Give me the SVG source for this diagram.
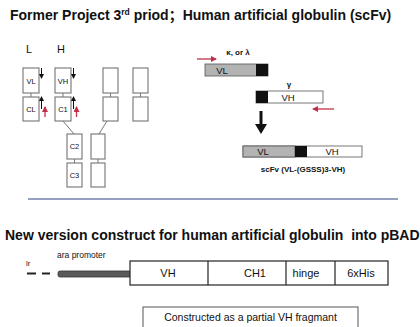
<svg xmlns="http://www.w3.org/2000/svg" width="420" height="327" viewBox="0 0 420 327">
<defs>
<style>
text{font-family:"Liberation Sans",Arial,sans-serif;fill:#111}
.t{font-size:14px;font-weight:bold}
.dom{fill:#fff;stroke:#666;stroke-width:1}
.ln{stroke:#777;stroke-width:1;fill:none}
.red{stroke:#c0304a;stroke-width:1.3;fill:none}
.blk{stroke:#111;stroke-width:1;fill:none}
.bar{stroke:#555;stroke-width:0.8}
.box{fill:#fff;stroke:#222;stroke-width:1.2}
.bl{font-size:11px;text-anchor:middle}
.dt{font-size:7.5px;text-anchor:middle}
</style>
<marker id="ar" markerWidth="6" markerHeight="6" refX="5" refY="3" orient="auto" markerUnits="userSpaceOnUse"><path d="M0,0L6,3L0,6z" fill="#c0304a"/></marker>
<marker id="ab" markerWidth="5" markerHeight="5" refX="4" refY="2.5" orient="auto" markerUnits="userSpaceOnUse"><path d="M0,0L5,2.5L0,5z" fill="#111"/></marker>
</defs>
<rect width="420" height="327" fill="#fff"/>
<text class="t" x="10" y="20">Former Project 3<tspan font-size="8.5" dy="-5">rd</tspan><tspan dy="5"> priod</tspan><tspan font-family="'Noto Sans CJK SC',sans-serif">；</tspan>Human artificial globulin (scFv)</text>

<g id="antibody">
<text x="26" y="53" font-size="11">L</text>
<text x="57" y="53" font-size="11">H</text>
<g id="VL"><rect class="dom" x="23" y="68" width="16" height="25"/><text class="dt" x="31" y="84">VL</text></g>
<g id="CL"><rect class="dom" x="23" y="97" width="16" height="24"/><text class="dt" x="31" y="112">CL</text></g>
<g id="VH"><rect class="dom" x="55" y="68" width="16" height="25"/><text class="dt" x="63" y="84">VH</text></g>
<g id="C1"><rect class="dom" x="55" y="97" width="16" height="24"/><text class="dt" x="63" y="112">C1</text></g>
<g id="VH2"><rect class="dom" x="103" y="68" width="15" height="25"/></g>
<g id="C1b"><rect class="dom" x="103" y="97" width="15" height="24"/></g>
<g id="VL2"><rect class="dom" x="133" y="68" width="15" height="25"/></g>
<g id="CL2"><rect class="dom" x="133" y="97" width="15" height="24"/></g>
<g id="C2"><rect class="dom" x="67" y="134" width="15" height="25"/><text class="dt" x="74.5" y="149">C2</text></g>
<g id="C3"><rect class="dom" x="67" y="163" width="15" height="24"/><text class="dt" x="74.5" y="178">C3</text></g>
<g id="C2b"><rect class="dom" x="91" y="134" width="14" height="25"/></g>
<g id="C3b"><rect class="dom" x="91" y="163" width="14" height="24"/></g>
</g>
<g id="connectors">
<line class="ln" x1="31" y1="93" x2="31" y2="97"/>
<line class="ln" x1="63" y1="93" x2="63" y2="97"/>
<line class="ln" x1="110.5" y1="93" x2="110.5" y2="97"/>
<line class="ln" x1="140.5" y1="93" x2="140.5" y2="97"/>
<line class="ln" x1="74.5" y1="159" x2="74.5" y2="163"/>
<line class="ln" x1="98" y1="159" x2="98" y2="163"/>
<line class="ln" x1="63" y1="121" x2="74" y2="134"/>
<line class="ln" x1="107" y1="121" x2="99" y2="134"/>
<line class="blk" x1="41.5" y1="68" x2="41.5" y2="78" marker-end="url(#ab)"/>
<line class="blk" x1="73.5" y1="68" x2="73.5" y2="78" marker-end="url(#ab)"/>
<line class="blk" x1="41.5" y1="109" x2="41.5" y2="97" marker-end="url(#ab)"/>
<line class="blk" x1="73.5" y1="109" x2="73.5" y2="97" marker-end="url(#ab)"/>
<line class="red" x1="45" y1="117" x2="45" y2="107" marker-end="url(#ar)"/>
<line class="red" x1="76.5" y1="117" x2="76.5" y2="107" marker-end="url(#ar)"/>
<line class="red" x1="197" y1="59" x2="216" y2="59" marker-end="url(#ar)"/>
<line class="red" x1="334" y1="109" x2="313" y2="109" marker-end="url(#ar)"/>
<line x1="261" y1="111" x2="261" y2="125" stroke="#111" stroke-width="3"/>
<path d="M255,124L267,124L261,134z" fill="#111"/>
<line x1="28" y1="199" x2="398" y2="199" stroke="#7080a8" stroke-width="1.3"/>
</g>

<g id="VLbar">
<text x="238" y="55" font-size="8" font-weight="bold" text-anchor="middle">κ, or λ</text>
<rect x="205" y="64" width="63" height="12" fill="#b3b3b3" class="bar"/>
<rect x="256" y="64" width="12" height="12" fill="#111"/>
<text x="222" y="74" font-size="9.5" text-anchor="middle">VL</text>
</g>
<g id="VHbar">
<text x="289" y="87" font-size="8" font-weight="bold" text-anchor="middle">γ</text>
<rect x="256" y="91" width="67" height="12" fill="#fff" class="bar"/>
<rect x="256" y="91" width="12" height="12" fill="#111"/>
<text x="288" y="101" font-size="9.5" text-anchor="middle">VH</text>
</g>
<g id="scFv">
<rect x="243" y="146" width="119" height="11" fill="#fff" class="bar"/>
<rect x="243" y="146" width="52" height="11" fill="#b3b3b3" class="bar"/>
<rect x="295" y="146" width="12" height="11" fill="#111"/>
<text x="263" y="155" font-size="9.5" text-anchor="middle">VL</text>
<text x="332" y="155" font-size="9.5" text-anchor="middle">VH</text>
<text x="303" y="172" font-size="8" font-weight="bold" text-anchor="middle">scFv (VL-(GSSS)3-VH)</text>
</g>

<text class="t" x="5" y="240" xml:space="preserve">New version construct for human artificial globulin  into pBAD</text>

<g id="promoter">
<text x="26" y="266" font-size="7.5">lr</text>
<line x1="27" y1="273.5" x2="36" y2="273.5" stroke="#222" stroke-width="2"/>
<line x1="42" y1="273.5" x2="50" y2="273.5" stroke="#222" stroke-width="2"/>
<text x="57" y="258" font-size="8.5">ara promoter</text>
<rect x="58" y="271" width="73" height="6" rx="2" fill="#5a5a5a" stroke="#333" stroke-width="0.8"/>
</g>
<g id="construct">
<rect class="box" x="130" y="261" width="258" height="24"/>
<line x1="208" y1="261" x2="208" y2="285" stroke="#222" stroke-width="1.2"/>
<line x1="286" y1="261" x2="286" y2="285" stroke="#222" stroke-width="1.2"/>
<line x1="335" y1="261" x2="335" y2="285" stroke="#222" stroke-width="1.2"/>
<text class="bl" x="168" y="277">VH</text>
<text class="bl" x="255" y="277">CH1</text>
<text class="bl" x="306" y="277">hinge</text>
<text class="bl" x="361" y="277">6xHis</text>
</g>
<g id="note">
<rect x="143" y="307" width="215" height="22" fill="#fff" stroke="#555" stroke-width="1"/>
<text x="250.5" y="321" font-size="10.5" text-anchor="middle">Constructed as a partial VH fragmant</text>
</g>
</svg>
